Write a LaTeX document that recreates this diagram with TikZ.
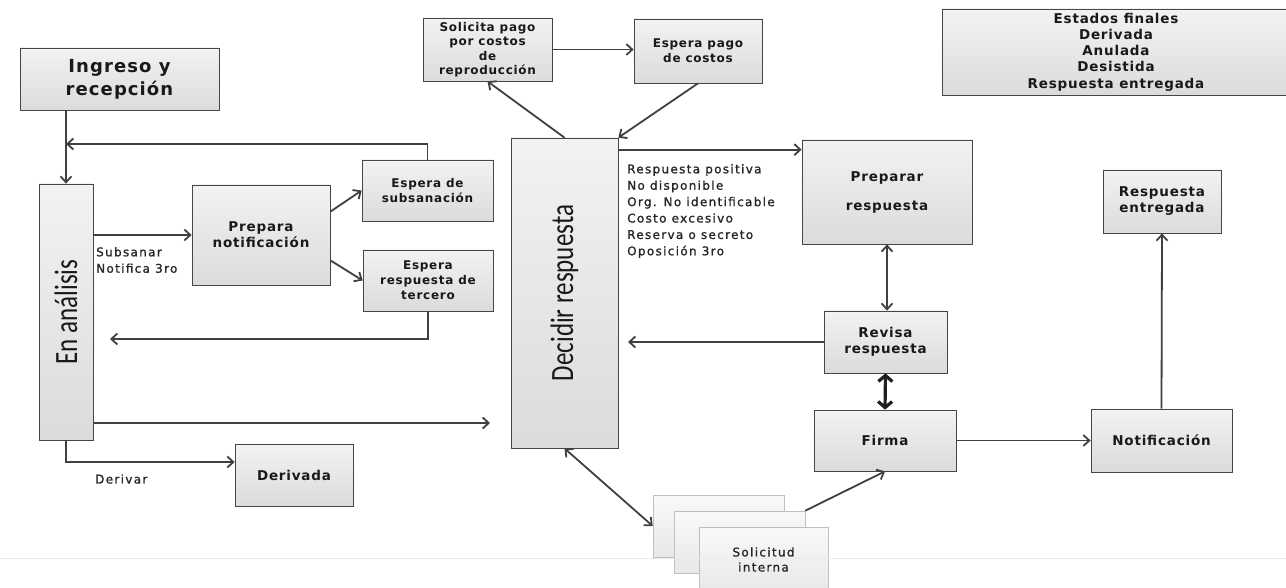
\documentclass[tikz,border=0pt]{standalone}
\usepackage{fontspec}
\setmainfont{DejaVu Sans}
\newfontfamily\bxfont[LetterSpace=6]{DejaVu Sans}
\newfontfamily\lbfont[LetterSpace=11,FakeBold=1.2]{DejaVu Sans}
\newfontfamily\calfont{Carlito}
\usetikzlibrary{arrows.meta,shadows}
\tikzset{
  box/.style={draw=gray!55!black, line width=0.7pt, top color=gray!10, bottom color=gray!28,
    drop shadow={shadow xshift=1.2pt,shadow yshift=-1.2pt,opacity=0.25},
    inner sep=0pt, align=center, text=black!90},
  lbox/.style={draw=gray!50, line width=0.6pt, top color=gray!5, bottom color=gray!18,
    inner sep=0pt, align=center, text=black!85},
  fb/.style={font=\bxfont\bfseries\fontsize{#1}{16}\selectfont},
  fs/.style={font=\bxfont\bfseries\fontsize{12}{15}\selectfont},
  lab/.style={inner sep=0pt, align=left, text=black!85, font=\lbfont\fontsize{12}{16.4}\selectfont},
  conn/.style={draw=black!75, line width=1.8pt},
  thick2/.style={draw=black!88, line width=3.2pt},
  >={Straight Barb[length=6pt,width=11pt]}
}
\begin{document}
\begin{tikzpicture}[x=1pt,y=-1pt]
\useasboundingbox (0,0) rectangle (1286,588);
\fill[white] (0,0) rectangle (1286,588);

% nodes
\node[box, font=\bxfont\bfseries\fontsize{18}{23}\selectfont, minimum width=199pt, minimum height=62pt] (ingreso) at (119.5,79) {Ingreso y\\recepción};
\node[box, minimum width=54pt, minimum height=256pt] (analisis) at (66,312) {};
\node[rotate=90, font=\calfont\fontsize{25}{28}\selectfont, text=black!90] (analisisT) at (analisis.center) {\scalebox{1}[1.3]{En análisis}};
\node[box, fb=13.5, minimum width=138pt, minimum height=100pt] (prepnot) at (261,235) {Prepara\\notificación};
\node[box, fs, minimum width=131pt, minimum height=61pt] (espsub) at (427.5,190.5) {Espera de\\subsanación};
\node[box, fs, minimum width=130pt, minimum height=61pt] (esp3) at (428,280.5) {Espera\\respuesta de\\tercero};
\node[box, fb=13.5, minimum width=118pt, minimum height=62pt] (derivada) at (294,475) {Derivada};
\node[box, font=\bxfont\bfseries\fontsize{12}{14.5}\selectfont, minimum width=129pt, minimum height=63pt] (solpago) at (487.5,49.5) {Solicita pago\\por costos\\de\\reproducción};
\node[box, fs, minimum width=128pt, minimum height=64pt] (esppago) at (698,51) {Espera pago\\de costos};
\node[box, minimum width=107pt, minimum height=310pt] (decidir) at (564.5,293) {};
\node[rotate=90, font=\calfont\fontsize{25}{28}\selectfont, text=black!90] (decidirT) at (decidir.center) {\scalebox{1}[1.3]{Decidir respuesta}};
\node[box, font=\bxfont\bfseries\fontsize{13.5}{29}\selectfont, minimum width=170pt, minimum height=104pt] (prepresp) at (887,192) {Preparar\\respuesta};
\node[box, fb=13.5, minimum width=123pt, minimum height=62pt] (revisa) at (885.5,342) {Revisa\\respuesta};
\node[box, fb=13.5, minimum width=142pt, minimum height=61pt] (firma) at (885,440.5) {Firma};
\node[box, fb=13.5, minimum width=141pt, minimum height=63pt] (notif) at (1161.5,440.5) {Notificación};
\node[box, fb=13.5, minimum width=118pt, minimum height=63pt] (respent) at (1162,201.5) {Respuesta\\entregada};
\node[box, font=\bxfont\bfseries\fontsize{13.5}{16.3}\selectfont, minimum width=348pt, minimum height=86pt] (estados) at (1116,52) {Estados finales\\Derivada\\Anulada\\Desistida\\Respuesta entregada};

% stacked boxes
\node[lbox, minimum width=131pt, minimum height=62pt] (sol1) at (718.5,526) {};
\node[lbox, minimum width=131pt, minimum height=62pt] (sol2) at (739.5,542) {};
\node[lbox, font=\lbfont\fontsize{12}{15}\selectfont, minimum width=129pt, minimum height=65pt] (sol3) at (763.5,559.5) {Solicitud\\interna};

% labels
\node[lab, anchor=north west] (lsub) at (96,247) {Subsanar\\Notifica 3ro};
\node[lab, anchor=west] (lder) at (95,479) {Derivar};
\node[lab, anchor=north west] (lst) at (627,164) {Respuesta positiva\\No disponible\\Org. No identificable\\Costo excesivo\\Reserva o secreto\\Oposición 3ro};

% free ends
\coordinate (fb1) at (66,144);
\coordinate (fb2) at (110,339);
\coordinate (fb3) at (490,423);
\coordinate (fb4) at (628,342);

% connectors
\draw[conn,->] (ingreso.south -| analisis.north) -- (analisis.north);
\draw[conn,->] (espsub.north) |- (fb1);
\draw[conn,->] (analisis.east |- prepnot.west) -- (prepnot.west);
\draw[conn,->] ([yshift=-27pt]prepnot.north east) -- (espsub.west);
\draw[conn,->] ([yshift=25pt]prepnot.south east) -- (esp3.west);
\draw[conn,->] (esp3.south) |- (fb2);
\draw[conn,->] (analisis.east |- fb3) -- (fb3);
\draw[conn,->] (analisis.south) |- ([yshift=13pt]derivada.west);
\draw[conn,->] (decidir.north) -- (solpago.south);
\draw[conn,->] (solpago.east) -- (solpago.east -| esppago.west);
\draw[conn,->] (esppago.south) -- (decidir.north east);
\draw[conn,->] ([yshift=-12pt]decidir.north east) -- ([yshift=-12pt]decidir.north east -| prepresp.west);
\draw[conn,<->] (prepresp.south) -- (prepresp.south |- revisa.north);
\draw[conn,->] (revisa.west) -- (fb4);
\draw[thick2,<->,>={Straight Barb[length=6pt,width=14pt]}] (revisa.south) -- (firma.north);
\draw[conn,->] (firma.east) -- (notif.west);
\draw[conn,->] (notif.north) -- (respent.south);
\draw[conn,<->] (decidir.south) -- (sol1.west);
\draw[conn,->] (sol2.north east) -- (firma.south);

% faint page line
\draw[gray!15, line width=1pt] (0,558) -- (1286,558);
\end{tikzpicture}
\end{document}
